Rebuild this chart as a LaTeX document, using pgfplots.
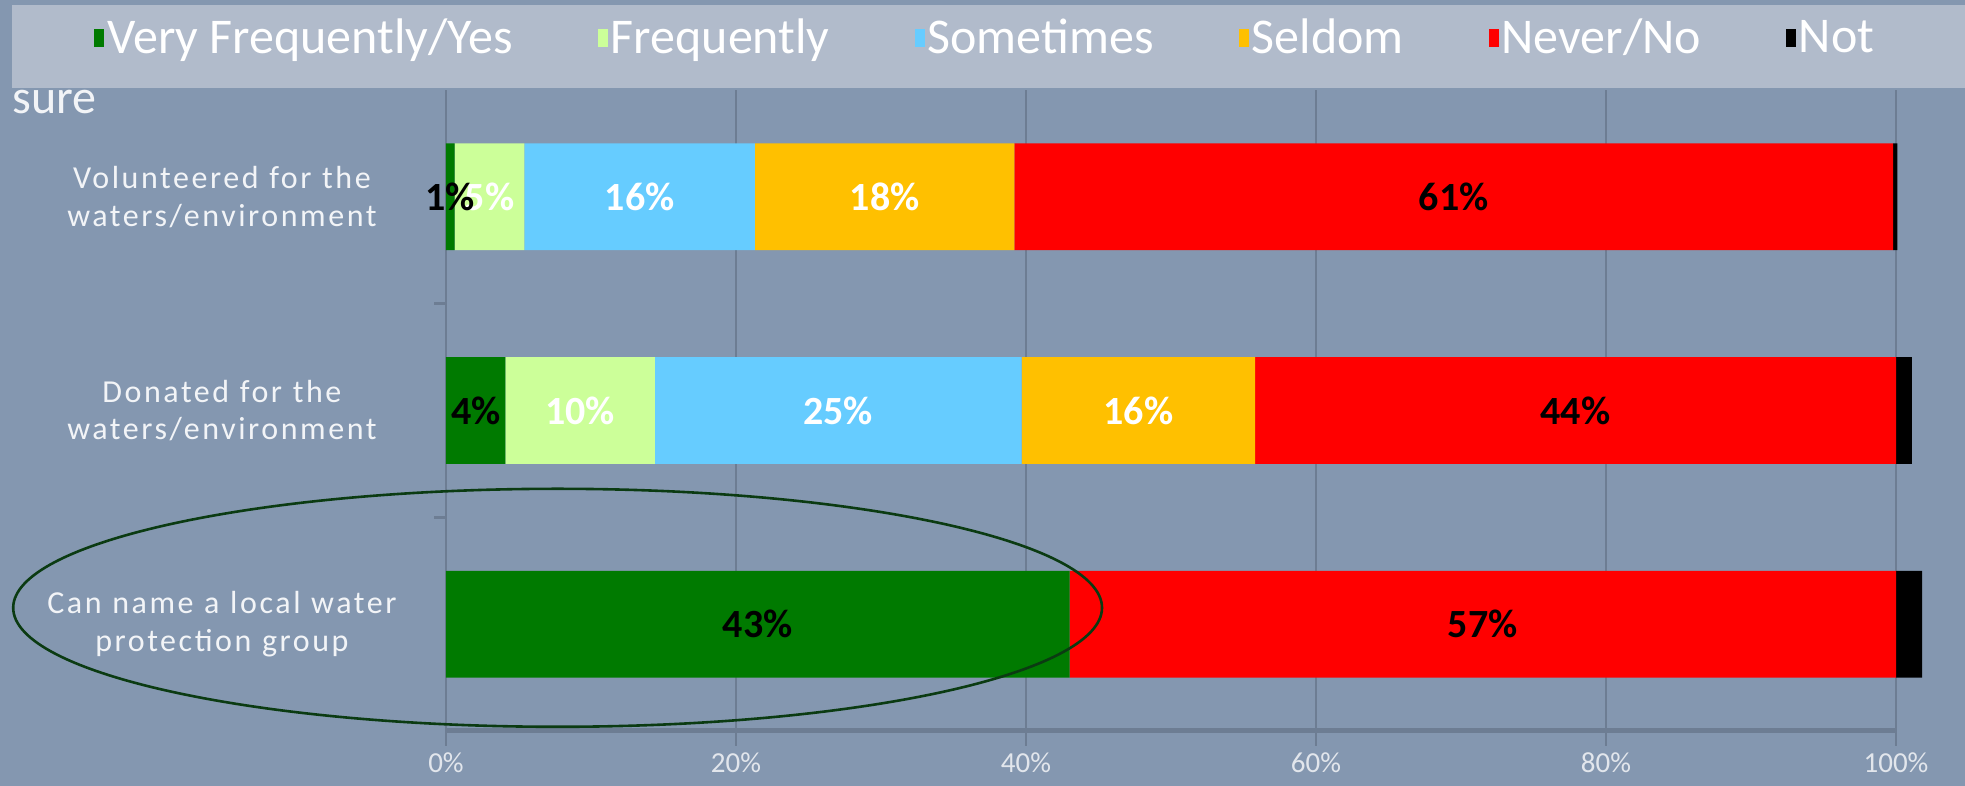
\documentclass[border=0pt]{standalone}
\usepackage{pgfplots}
\pgfplotsset{compat=1.18}
\usepackage{pgfplotstable}
\usepackage{fontspec}
\setmainfont{Carlito}
\newfontfamily\catfont[LetterSpace=8]{Carlito}
\definecolor{bg}{HTML}{8497B0}
\definecolor{legbg}{HTML}{B1BBCB}
\definecolor{gridc}{HTML}{6D7D93}
\definecolor{cgreen}{HTML}{007A00}
\definecolor{clgreen}{HTML}{CCFF99}
\definecolor{cblue}{HTML}{66CCFF}
\definecolor{corange}{HTML}{FFC000}
\definecolor{cred}{HTML}{FF0000}
\definecolor{ellc}{HTML}{0B3B12}
\definecolor{tickc}{HTML}{E2E6EC}
\definecolor{labc}{HTML}{F2F4F7}

\pgfplotstableread{
y vfy fr so se nn ns
0 43.0 0 0 0 57.0 1.8
1 4.1 10.3 25.3 16.1 44.2 1.1
2 0.6 4.8 15.9 17.9 60.6 0.3
}\data

\pgfplotstableread{
x y lab
3.0 2 5
13.35 2 16
30.25 2 18
9.25 1 10
27.05 1 25
47.75 1 16
}\wlab

\pgfplotstableread{
x y lab
0.3 2 1
69.5 2 61
2.05 1 4
77.9 1 44
21.5 0 43
71.5 0 57
}\blab

\begin{document}
\begin{tikzpicture}
\fill[bg] (0,0) rectangle (982.5pt,393pt);
\useasboundingbox (0,0) rectangle (982.5pt,393pt);
\fill[legbg] (6pt,349pt) rectangle (982.5pt,390.5pt);
\node[anchor=west, inner sep=0pt, text=labc, font=\fontsize{24}{28}\selectfont] at (6pt,342pt) {sure};

\begin{axis}[
  at={(223pt,27.5pt)}, anchor=south west, scale only axis,
  width=725pt, height=320.5pt,
  xbar stacked, bar width=53.4pt,
  xmin=0, xmax=100, ymin=-0.5, ymax=2.5,
  clip=false,
  axis line style={draw=none},
  xtick pos=left, ytick pos=left, tick align=outside,
  xtick={0,20,40,60,80,100},
  xticklabels={0\%,20\%,40\%,60\%,80\%,100\%},
  xticklabel style={font=\fontsize{14.5}{16}\selectfont, text=tickc},
  xmajorgrids, grid style={draw=gridc, line width=1.2pt},
  every tick/.style={draw=gridc, line width=1.2pt},
  major tick length=7.5pt,
  ytick={0,1,2},
  yticklabels={{Can name a local water\\protection group},{Donated for the\\waters/environment},{Volunteered for the\\waters/environment}},
  yticklabel style={align=center, text width=202pt, font=\catfont\fontsize{16}{18.8}\selectfont, text=labc},
  ytick style={draw=none},
  extra y ticks={0.5,1.5}, extra y tick labels={},
  extra y tick style={major tick length=6pt, ytick style={draw=gridc, line width=1.2pt}},
  after end axis/.code={
    \draw[gridc, line width=2.5pt] (rel axis cs:0,0) -- (rel axis cs:1,0);
    \foreach \t in {0,20,40,60,80,100}{
      \draw[gridc, line width=1.2pt] (axis cs:\t,-0.5) -- ([yshift=-7.5pt]axis cs:\t,-0.5);
    }
  },
  legend columns=6,
  legend style={at={(-0.2428,1.081)}, anchor=west, fill=none, draw=none,
    font=\fontsize{25}{28}\selectfont, text=white, column sep=0pt, inner sep=0pt,
    nodes={inner sep=1.5pt},
    /tikz/every even column/.append style={column sep=41pt}},
  legend image code/.code={\draw[#1,draw=none] (0pt,-4.5pt) rectangle (5pt,4.5pt);},
]
\addplot[fill=cgreen, draw=none] table[x=vfy, y=y] {\data};
\addplot[fill=clgreen, draw=none] table[x=fr, y=y] {\data};
\addplot[fill=cblue, draw=none] table[x=so, y=y] {\data};
\addplot[fill=corange, draw=none] table[x=se, y=y] {\data};
\addplot[fill=cred, draw=none] table[x=nn, y=y] {\data};
\addplot[fill=black, draw=none] table[x=ns, y=y] {\data};
\legend{Very Frequently/Yes, Frequently, Sometimes, Seldom, Never/No, Not}
\end{axis}

\begin{axis}[
  at={(223pt,27.5pt)}, anchor=south west, scale only axis,
  width=725pt, height=320.5pt,
  xmin=0, xmax=100, ymin=-0.5, ymax=2.5,
  hide axis, clip=false,
]
\addplot[draw=none, mark=none, nodes near coords={\pgfplotspointmeta\%}, point meta=explicit symbolic,
  every node near coord/.append style={anchor=center, font=\bfseries\fontsize{20}{24}\selectfont, text=white}]
  table[x=x, y=y, meta=lab] {\wlab};
\addplot[draw=none, mark=none, nodes near coords={\pgfplotspointmeta\%}, point meta=explicit symbolic,
  every node near coord/.append style={anchor=center, font=\bfseries\fontsize{20}{24}\selectfont, text=black}]
  table[x=x, y=y, meta=lab] {\blab};
\end{axis}

\draw[ellc, line width=1.3pt] (278.8pt,89.1pt) ellipse [x radius=272.2pt, y radius=59.5pt];
\end{tikzpicture}
\end{document}
